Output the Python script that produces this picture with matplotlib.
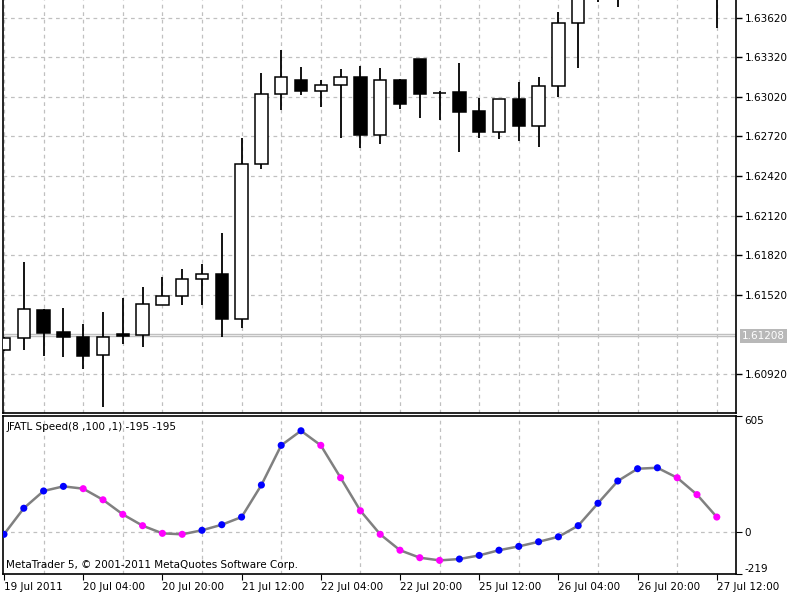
import numpy as np
import matplotlib
matplotlib.use("Agg")
import matplotlib.pyplot as plt
import matplotlib.transforms as mtransforms

plt.rcParams['font.family'] = ['DejaVu Sans']
plt.rcParams['font.size'] = 7.5

# H4 candles, EURUSD-ish, index 0 = first visible bar
opens = [1.61104, 1.61191, 1.61407, 1.61241, 1.61200, 1.61066, 1.61223, 1.61218, 1.61443, 1.61509,
         1.61638, 1.61680, 1.61339, 1.62509, 1.63044, 1.63150, 1.63062, 1.63112, 1.63168, 1.62731,
         1.63150, 1.63305, 1.63050, 1.63059, 1.62911, 1.62752, 1.63002, 1.62799, 1.63102, 1.63580,
         1.63950, 1.64080, 1.64180, 1.64320, 1.64100, 1.64000, 1.63900]
highs = [1.61200, 1.61766, 1.61415, 1.61418, 1.61299, 1.61390, 1.61494, 1.61577, 1.61653, 1.61716,
         1.61751, 1.61991, 1.62706, 1.63199, 1.63375, 1.63244, 1.63148, 1.63229, 1.63256, 1.63237,
         1.63153, 1.63305, 1.63065, 1.63274, 1.63014, 1.63006, 1.63130, 1.63168, 1.63665, 1.63990,
         1.64150, 1.64250, 1.64400, 1.64450, 1.64300, 1.64200, 1.64100]
lows = [1.61094, 1.61104, 1.61056, 1.61047, 1.60956, 1.60672, 1.61145, 1.61127, 1.61443, 1.61443,
        1.61443, 1.61198, 1.61271, 1.62471, 1.62921, 1.63032, 1.62946, 1.62706, 1.62630, 1.62661,
        1.62926, 1.62862, 1.62845, 1.62600, 1.62711, 1.62703, 1.62688, 1.62638, 1.63017, 1.63239,
        1.63741, 1.63699, 1.63900, 1.63950, 1.63850, 1.63800, 1.63540]
closes = [1.61191, 1.61415, 1.61233, 1.61198, 1.61056, 1.61198, 1.61208, 1.61450, 1.61509, 1.61640,
          1.61680, 1.61337, 1.62509, 1.63044, 1.63168, 1.63062, 1.63112, 1.63168, 1.62731, 1.63150,
          1.62966, 1.63042, 1.63049, 1.62903, 1.62752, 1.63002, 1.62799, 1.63102, 1.63580, 1.63950,
          1.64080, 1.64180, 1.64320, 1.64100, 1.64000, 1.63900, 1.63850]

ask_price = 1.61222
bid_price = 1.61208

price_ticks = [1.60920, 1.61520, 1.61820, 1.62120, 1.62420, 1.62720, 1.63020, 1.63320, 1.63620]

# JFATL Speed values + dot colours (b = rising, m = falling)
speed = [-12, 124, 214, 238, 226, 168, 92, 33, -7, -12,
         9, 38, 78, 245, 452, 528, 452, 283, 111, -12,
         -95, -134, -148, -141, -122, -95, -75, -51, -25, 33,
         150, 266, 330, 335, 283, 195, 78]
speed_dir = ['b', 'b', 'b', 'b', 'm', 'm', 'm', 'm', 'm', 'm',
             'b', 'b', 'b', 'b', 'b', 'b', 'm', 'm', 'm', 'm',
             'm', 'm', 'm', 'b', 'b', 'b', 'b', 'b', 'b', 'b',
             'b', 'b', 'b', 'b', 'm', 'm', 'm']
speed_ticks = [-219, 0, 605]

time_labels = ['19 Jul 2011', '20 Jul 04:00', '20 Jul 20:00', '21 Jul 12:00', '22 Jul 04:00',
               '22 Jul 20:00', '25 Jul 12:00', '26 Jul 04:00', '26 Jul 20:00', '27 Jul 12:00']
label_pos = [0, 4, 8, 12, 16, 20, 24, 28, 32, 36]

grid_col = '#c0c0c0'
dash = (0, (3, 3))
W, H = 800, 600

fig = plt.figure(figsize=(8, 6), dpi=100)
ax = fig.add_axes([3 / W, (H - 413) / H, 733 / W, 413 / H])
ax2 = fig.add_axes([3 / W, (H - 574) / H, 733 / W, 158 / H])

x = np.arange(len(opens))
xlim = (-0.05, 36.97)
grid_x = np.arange(0, 37, 2)

# ---- price pane
ax.vlines(x, lows, highs, color='black', lw=1.3, zorder=3)
o = np.array(opens)
c = np.array(closes)
body_col = ['white' if cc >= oo else 'black' for oo, cc in zip(o, c)]
ax.bar(x, np.abs(c - o), bottom=np.minimum(o, c), width=0.62, color=body_col,
       edgecolor='black', linewidth=1.1, zorder=4)
ax.axhline(ask_price, color=grid_col, lw=1, zorder=2)
ax.axhline(bid_price, color=grid_col, lw=1, zorder=2)

ax.set_xlim(xlim)
ax.set_ylim(1.606244, 1.637541)
ax.set_xticks(grid_x)
ax.tick_params(axis='x', length=0, labelbottom=False)
ax.yaxis.tick_right()
ax.set_yticks(price_ticks)
ax.set_yticklabels(['%.5f' % p for p in price_ticks])
ax.tick_params(axis='y', direction='out', length=4, width=1, pad=2)
ax.grid(True, color=grid_col, ls=dash, lw=0.9)
ax.set_axisbelow(True)
ax.spines['top'].set_visible(False)
for s in ['left', 'right', 'bottom']:
    ax.spines[s].set_linewidth(1.2)

trans = mtransforms.blended_transform_factory(ax.transAxes, ax.transData)
ax.text(1.008, bid_price, '%.5f' % bid_price, transform=trans, color='white',
        va='center', ha='left', fontsize=7.5,
        bbox=dict(facecolor='#b8b8b8', edgecolor='none', pad=1.5))

# ---- indicator pane
ax2.plot(x, speed, color='#808080', lw=1.8, zorder=3)
dot_col = ['#0000ff' if d == 'b' else '#ff00ff' for d in speed_dir]
ax2.scatter(x, speed, s=26, c=dot_col, zorder=4, linewidths=0)
ax2.set_xlim(xlim)
ax2.set_ylim(-219, 605)
ax2.set_xticks(label_pos)
ax2.set_xticklabels(time_labels)
for t in ax2.get_xticklabels():
    t.set_ha('left')
ax2.set_xticks(grid_x, minor=True)
ax2.tick_params(axis='x', which='major', direction='out', length=4, pad=2)
ax2.tick_params(axis='x', which='minor', length=0)
ax2.grid(True, which='minor', axis='x', color=grid_col, ls=dash, lw=0.9)
ax2.axhline(0, color=grid_col, ls=dash, lw=0.9, zorder=1)
ax2.yaxis.tick_right()
ax2.set_yticks(speed_ticks)
ax2.set_yticklabels([str(v) for v in speed_ticks])
ax2.tick_params(axis='y', direction='out', length=4, pad=2)
ylabels = ax2.get_yticklabels()
ylabels[0].set_va('bottom')
ylabels[-1].set_va('top')
for s in ax2.spines.values():
    s.set_linewidth(1.2)

ax2.text(0.005, 0.93, 'JFATL Speed(8 ,100 ,1) -195 -195', transform=ax2.transAxes,
         ha='left', va='center', fontsize=7.5)
ax2.text(0.004, 0.055, 'MetaTrader 5, \u00a9 2001-2011 MetaQuotes Software Corp.',
         transform=ax2.transAxes, ha='left', va='center', fontsize=7.5)

fig.savefig('out.png', dpi=100, facecolor='white')
